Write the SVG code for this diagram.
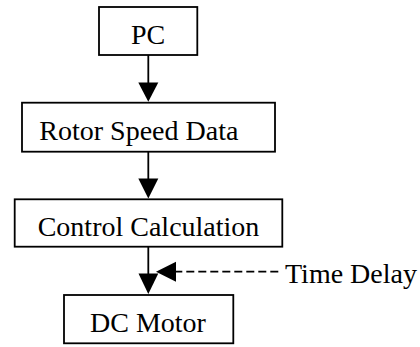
<svg xmlns="http://www.w3.org/2000/svg" width="420" height="347" viewBox="0 0 420 347">
<style>
.box{fill:#fff;stroke:#000;stroke-width:1.8}
.lbl{font-family:"Liberation Serif","Times New Roman",serif;font-size:28px;fill:#000}
.ln{stroke:#000;stroke-width:1.8;fill:none}
.dash{stroke-dasharray:8 4}
.head{fill:#000}
</style>
<rect width="420" height="347" fill="#fff"/>
<g id="connectors">
<line class="ln" x1="148.3" y1="55" x2="148.3" y2="84"/>
<polygon class="head" points="138.3,82.5 158.3,82.5 148.3,101.8"/>
<line class="ln" x1="148.3" y1="152" x2="148.3" y2="180"/>
<polygon class="head" points="138.3,178.5 158.3,178.5 148.3,198.5"/>
<line class="ln" x1="148.3" y1="247" x2="148.3" y2="275"/>
<polygon class="head" points="138.5,273.5 158.3,273.5 148.3,294"/>
<line class="ln dash" x1="278.3" y1="271.7" x2="175" y2="271.7"/>
<polygon class="head" points="156,271.7 176,261.7 176,281.7"/>
</g>
<g id="pc">
<rect class="box" x="99" y="7" width="98.3" height="48"/>
<text class="lbl" x="148" y="44" text-anchor="middle">PC</text>
</g>
<g id="rotor">
<rect class="box" x="22" y="102.7" width="253" height="49"/>
<text class="lbl" x="39.3" y="140">Rotor Speed Data</text>
</g>
<g id="control">
<rect class="box" x="14.7" y="199.3" width="267.6" height="47.4"/>
<text class="lbl" x="37.7" y="236">Control Calculation</text>
</g>
<g id="motor">
<rect class="box" x="64" y="295" width="169.3" height="48.3"/>
<text class="lbl" x="90" y="331.7">DC Motor</text>
</g>
<g id="delay">
<text class="lbl" x="285" y="283.3">Time Delay</text>
</g>
</svg>
